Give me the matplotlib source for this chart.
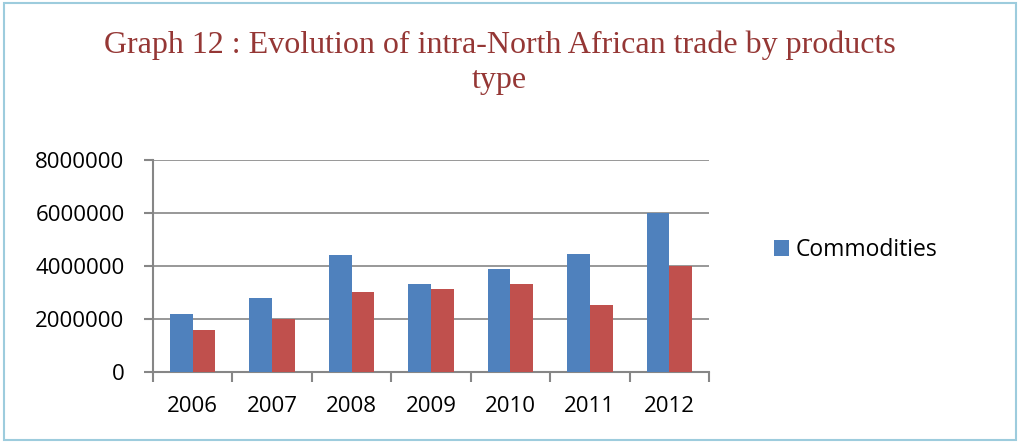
import matplotlib.pyplot as plt
import numpy as np
from matplotlib.patches import Rectangle

# data
years = ["2006", "2007", "2008", "2009", "2010", "2011", "2012"]
commodities = [2200000, 2780000, 4400000, 3320000, 3900000, 4460000, 6000000]
other_products = [1580000, 1990000, 3030000, 3140000, 3330000, 2540000, 4000000]
yticks = [0, 2000000, 4000000, 6000000, 8000000]

blue = "#4F81BD"
red = "#C0504D"
grey = "#868686"

fig = plt.figure(figsize=(10.2, 4.43), dpi=100)
ax = fig.add_axes([153 / 1020, 1 - 372 / 443, (709 - 153) / 1020, (372 - 160) / 443])

# light blue frame round the whole chart
fig.patches.append(Rectangle((0.004, 0.006), 0.992, 0.988, transform=fig.transFigure,
                             fill=False, edgecolor="#9DCCDD", linewidth=1.5))

x = np.arange(len(years))
w = 0.286
b1 = ax.bar(x - w / 2, commodities, w, color=blue, label="Commodities", zorder=3)
ax.bar(x + w / 2, other_products, w, color=red, zorder=3)

ax.set_xlim(-0.5, len(years) - 0.5)
ax.set_ylim(0, 8000000)
ax.set_yticks(yticks)
ax.set_yticklabels([str(v) for v in yticks])
ax.set_xticks(x)
ax.set_xticklabels(years)
ax.set_xticks(np.arange(-0.5, len(years)), minor=True)

ax.grid(axis="y", color=grey, linewidth=1.2, zorder=0)
for s in ["top", "right"]:
    ax.spines[s].set_visible(False)
for s in ["left", "bottom"]:
    ax.spines[s].set_color(grey)
    ax.spines[s].set_linewidth(1.5)

ax.tick_params(axis="x", which="major", length=0, pad=17)
ax.tick_params(axis="x", which="minor", length=7, width=1.5, color=grey)
ax.tick_params(axis="y", length=6.5, width=1.5, color=grey, pad=14)
for lab in ax.get_xticklabels() + ax.get_yticklabels():
    lab.set_fontfamily("Open Sans")
    lab.set_fontsize(16)

ax.legend(handles=[b1], loc="center left", bbox_to_anchor=(1.08, 0.575), frameon=False,
          prop={"family": "Open Sans", "size": 16.5}, handlelength=0.65, handleheight=0.65,
          handletextpad=0.3)

fig.text(0.49, 0.858, "Graph 12 : Evolution of intra-North African trade by products\ntype",
         ha="center", va="center", fontsize=23, color="#953735",
         family="Liberation Serif", linespacing=1.25)

fig.savefig("out.png", dpi=100)
